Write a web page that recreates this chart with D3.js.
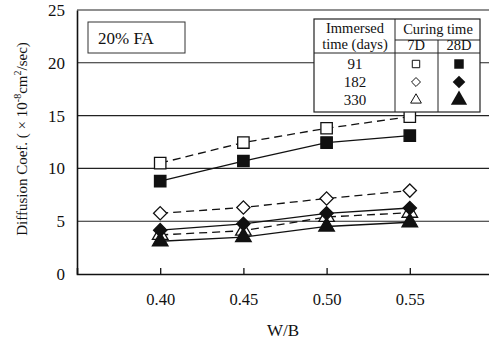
<!DOCTYPE html>
<html>
<head>
<meta charset="utf-8">
<script src="https://cdn.jsdelivr.net/npm/d3@7"></script>
<style>
  body { margin: 0; background: #fff; }
  svg { font-family: "Liberation Serif", "Times New Roman", serif; }
</style>
</head>
<body>
<script>
'use strict';

// W/B ratios on the x axis
const wb = [0.40, 0.45, 0.50, 0.55];
const xTicks = ['0.40', '0.45', '0.50', '0.55'];
const yTicks = [0, 5, 10, 15, 20, 25];

// diffusion coefficients (x10^-8 cm2/sec)
const d91_7D = [10.5, 12.45, 13.8, 14.9];
const d91_28D = [8.8, 10.7, 12.45, 13.1];
const d182_7D = [5.75, 6.3, 7.15, 7.9];
const d182_28D = [4.15, 4.75, 5.75, 6.25];
const d330_7D = [3.7, 4.1, 5.4, 5.8];
const d330_28D = [3.1, 3.5, 4.5, 4.9];

const series = [
  {values: d91_7D, shape: 'square', filled: false, dashed: true},
  {values: d91_28D, shape: 'square', filled: true, dashed: false},
  {values: d182_7D, shape: 'diamond', filled: false, dashed: true},
  {values: d330_7D, shape: 'triangle', filled: false, dashed: true},
  {values: d330_28D, shape: 'triangle', filled: true, dashed: false},
  {values: d182_28D, shape: 'diamond', filled: true, dashed: false}
];

const width = 489, height = 345;
const margin = {top: 10, right: -4, bottom: 71, left: 77};

let x = d3.scaleLinear().domain([0.35, 0.60]).range([margin.left, width - margin.right]);
let y = d3.scaleLinear().domain([0, 25]).range([height - margin.bottom, margin.top]);

// square turned 45 degrees, same width and height
const symbolRhombus = {
  draw: function (ctx, size) {
    const r = Math.sqrt(size / 2);
    ctx.moveTo(0, -r);
    ctx.lineTo(r, 0);
    ctx.lineTo(0, r);
    ctx.lineTo(-r, 0);
    ctx.closePath();
  }
};
const shapeTypes = {square: d3.symbolSquare, diamond: symbolRhombus, triangle: d3.symbolTriangle};
const shapeSizes = {square: 130, diamond: 88, triangle: 105};

let svg = d3.select('body').append('svg')
    .attr('width', width)
    .attr('height', height);

// horizontal grid lines
svg.append('g')
  .selectAll('line')
  .data(yTicks.slice(1))
  .enter().append('line')
    .attr('x1', x(0.35)).attr('x2', x(0.60))
    .attr('y1', d => y(d)).attr('y2', d => y(d))
    .attr('stroke', '#222')
    .attr('stroke-width', 1.1);

// Y axis
let yAxis = svg.append('g')
    .attr('transform', 'translate(' + margin.left + ',0)')
    .call(d3.axisLeft(y).tickValues(yTicks).tickSize(0).tickPadding(12));
yAxis.select('.domain').attr('stroke', '#111').attr('stroke-width', 1.6);
yAxis.selectAll('text').attr('font-size', 17).attr('font-family', 'Liberation Serif').attr('fill', '#111');

// X axis, ticks pointing inward
let xAxis = svg.append('g')
    .attr('transform', 'translate(0,' + y(0) + ')')
    .call(d3.axisBottom(x).tickValues(wb).tickFormat((d, i) => xTicks[i]).tickSize(-6).tickPadding(19));
xAxis.select('.domain').attr('stroke', '#111').attr('stroke-width', 1.6);
xAxis.selectAll('.tick line').attr('stroke', '#111').attr('stroke-width', 1.3);
xAxis.selectAll('text').attr('font-size', 16.5).attr('font-family', 'Liberation Serif').attr('fill', '#111');

// axis titles
svg.append('text')
    .attr('x', 283).attr('y', 336)
    .attr('text-anchor', 'middle')
    .attr('font-size', 17)
    .attr('fill', '#111')
    .text('W/B');

let yTitle = svg.append('text')
    .attr('transform', 'translate(27,' + 139 + ') rotate(-90)')
    .attr('text-anchor', 'middle')
    .attr('font-size', 15)
    .attr('fill', '#111');
yTitle.append('tspan').text('Diffusion Coef. ( \u00d7 10');
yTitle.append('tspan').attr('dy', -6).attr('font-size', 10).text('-8');
yTitle.append('tspan').attr('dy', 6).text('cm');
yTitle.append('tspan').attr('dy', -6).attr('font-size', 10).text('2');
yTitle.append('tspan').attr('dy', 6).text('/sec)');

// lines
let line = d3.line()
    .x((d, i) => x(wb[i]))
    .y(d => y(d));

svg.append('g').selectAll('path')
  .data(series)
  .enter().append('path')
    .attr('d', d => line(d.values))
    .attr('fill', 'none')
    .attr('stroke', '#111')
    .attr('stroke-width', 1.3)
    .attr('stroke-dasharray', d => d.dashed ? '8,5' : null);

// markers
series.forEach(function (s) {
  svg.append('g').selectAll('path')
    .data(s.values)
    .enter().append('path')
      .attr('d', d3.symbol().type(shapeTypes[s.shape]).size(shapeSizes[s.shape]))
      .attr('transform', (d, i) => 'translate(' + x(wb[i]) + ',' + y(d) + ')')
      .attr('fill', s.filled ? '#111' : '#fff')
      .attr('stroke', '#111')
      .attr('stroke-width', 1.3);
});

// "20% FA" label box
svg.append('rect')
    .attr('x', 88).attr('y', 22).attr('width', 97).attr('height', 31)
    .attr('fill', '#fff').attr('stroke', '#333').attr('stroke-width', 1);
svg.append('text')
    .attr('x', 98).attr('y', 44)
    .attr('font-size', 17)
    .attr('fill', '#111')
    .text('20% FA');

// legend table
const legRows = ['91', '182', '330'];
const legShapes = ['square', 'diamond', 'triangle'];
let leg = svg.append('g');
leg.append('rect')
    .attr('x', 314).attr('y', 19).attr('width', 166).attr('height', 93)
    .attr('fill', '#fff').attr('stroke', '#222').attr('stroke-width', 1.2);
leg.append('line').attr('x1', 395).attr('x2', 395).attr('y1', 19).attr('y2', 112).attr('stroke', '#222');
leg.append('line').attr('x1', 438).attr('x2', 438).attr('y1', 40).attr('y2', 112).attr('stroke', '#222');
leg.append('line').attr('x1', 395).attr('x2', 480).attr('y1', 40).attr('y2', 40).attr('stroke', '#222');
leg.append('line').attr('x1', 314).attr('x2', 480).attr('y1', 53).attr('y2', 53).attr('stroke', '#222');

const legText = [
  {t: 'Immersed', x: 355, y: 33},
  {t: 'time (days)', x: 355, y: 49},
  {t: 'Curing time', x: 438, y: 34},
  {t: '7D', x: 416, y: 50},
  {t: '28D', x: 459, y: 50}
];
leg.selectAll('text.h')
  .data(legText)
  .enter().append('text')
    .attr('class', 'h')
    .attr('x', d => d.x).attr('y', d => d.y)
    .attr('text-anchor', 'middle')
    .attr('font-size', 14.5)
    .attr('fill', '#111')
    .text(d => d.t);

const legOpenSize = {square: 55, diamond: 40, triangle: 50};
const legFillSize = {square: 90, diamond: 80, triangle: 115};
legRows.forEach(function (r, i) {
  let cy = 63 + i * 18;
  leg.append('text')
      .attr('x', 355).attr('y', cy + 6)
      .attr('text-anchor', 'middle')
      .attr('font-size', 15)
      .attr('fill', '#111')
      .text(r);
  leg.append('path')
      .attr('d', d3.symbol().type(shapeTypes[legShapes[i]]).size(legOpenSize[legShapes[i]]))
      .attr('transform', 'translate(416,' + (cy + 1) + ')')
      .attr('fill', '#fff').attr('stroke', '#111').attr('stroke-width', 1);
  leg.append('path')
      .attr('d', d3.symbol().type(shapeTypes[legShapes[i]]).size(legFillSize[legShapes[i]]))
      .attr('transform', 'translate(459,' + (cy + 1) + ')')
      .attr('fill', '#111');
});
</script>
</body>
</html>
